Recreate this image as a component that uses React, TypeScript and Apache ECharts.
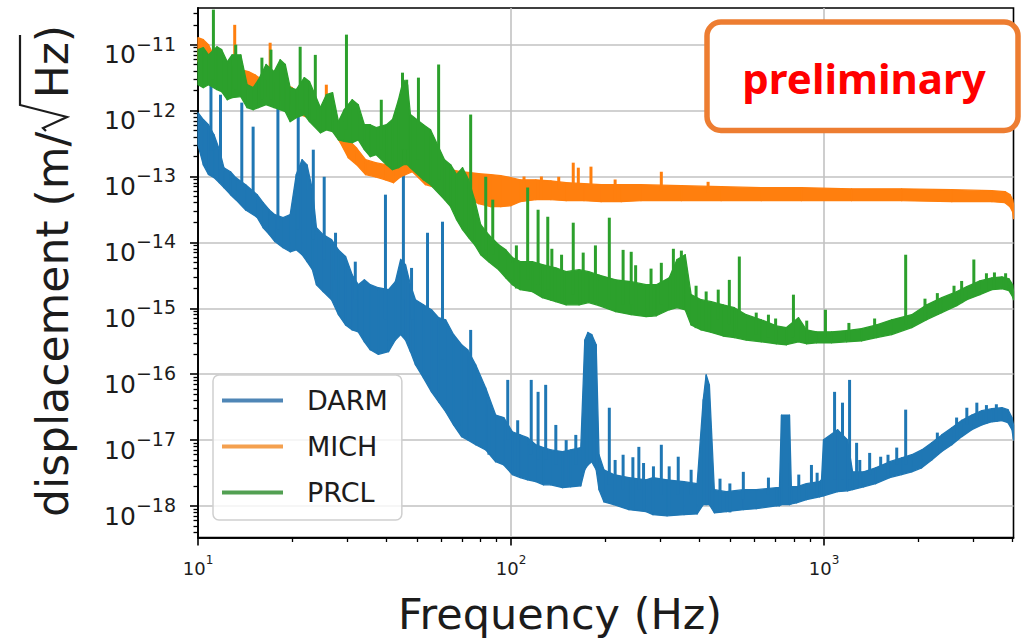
import React, { useEffect, useRef } from 'react';
import * as echarts from 'echarts';

// ---------------- chart data ----------------
const SERIES_NAMES = ['DARM', 'MICH', 'PRCL'];
const SERIES_COLORS = ['#1f77b4', '#ff7f0e', '#2ca02c'];
const LEGEND_COLORS = ['#4f86b6', '#f4a04f', '#52a052'];

const X_MIN_HZ = 10;
const X_MAX_HZ = 4027;
const Y_MIN = 3.33e-19;
const Y_MAX = 3.6e-11;

const X_TICK_EXPONENTS = [1, 2, 3];
const Y_TICK_EXPONENTS = [-18, -17, -16, -15, -14, -13, -12, -11];
const X_MINOR_HZ = [20, 30, 40, 50, 60, 70, 80, 90, 200, 300, 400, 500, 600, 700, 800, 900, 2000, 3000, 4000];
const MINOR_MANTISSAS = [2, 3, 4, 5, 6, 7, 8, 9];

// [frequency (Hz), lower edge, upper edge] of each noisy spectrum, in m/sqrt(Hz)
const DARM_BAND = [
  [10.0, 3.0e-13, 9.3e-13], [10.4, 1.5e-13, 7.3e-13], [10.8, 1.07e-13, 6.1e-13], [11.25, 9.6e-14, 4.3e-13],
  [11.7, 8.0e-14, 2.55e-13], [12.1, 6.8e-14, 1.36e-13], [12.7, 5.3e-14, 1.18e-13], [13.2, 4.45e-14, 9.6e-14],
  [14.2, 3.1e-14, 7.5e-14], [15.45, 2.4e-14, 5.3e-14], [16.15, 1.67e-14, 4.0e-14], [16.9, 1.31e-14, 3.1e-14],
  [17.6, 1.03e-14, 2.63e-14], [18.7, 8.3e-15, 2.37e-14], [19.7, 7.2e-15, 2.63e-14], [20.6, 7.7e-15, 1.07e-13],
  [21.5, 6.5e-15, 1.8e-13], [22.3, 5.1e-15, 1.5e-13], [23.2, 3.85e-15, 6.3e-14], [23.9, 2.28e-15, 1.67e-14],
  [25.1, 1.79e-15, 1.31e-14], [26.7, 1.35e-15, 1.1e-14], [28.1, 8.0e-16, 7.7e-15], [29.6, 5.6e-16, 6.1e-15],
  [31.1, 4.7e-16, 3.2e-15], [32.5, 4.4e-16, 2.28e-15], [34.0, 3.1e-16, 2.7e-15], [35.5, 2.35e-16, 2.28e-15],
  [37.7, 2.0e-16, 2.05e-15], [40.6, 2.2e-16, 1.92e-15], [42.7, 3.3e-16, 2.53e-15], [44.4, 4.0e-16, 5.5e-15],
  [46.0, 3.3e-16, 4.6e-15], [47.7, 2.2e-16, 2.28e-15], [49.5, 1.39e-16, 1.35e-15], [52.5, 8.8e-17, 1.13e-15],
  [55.7, 5.4e-17, 9.5e-16], [58.7, 3.8e-17, 7.2e-16], [61.8, 2.7e-17, 6.7e-16], [65.5, 1.7e-17, 4.0e-16],
  [69.5, 1.13e-17, 2.8e-16], [72.7, 1.01e-17, 2.35e-16], [77.1, 8.5e-18, 1.39e-16], [83.0, 7.1e-18, 6.2e-17],
  [89.3, 4.7e-18, 2.4e-17], [94.8, 4.2e-18, 2.2e-17], [101, 3.0e-18, 1.34e-17], [107, 2.7e-18, 1.2e-17],
  [113, 2.5e-18, 1.09e-17], [120, 2.34e-18, 8.5e-18], [127, 2.1e-18, 7.7e-18], [134, 2.1e-18, 7.1e-18],
  [146, 1.9e-18, 6.7e-18], [155, 1.96e-18, 7.1e-18], [167, 2.03e-18, 7.7e-18], [172, 3.55e-18, 3.3e-16],
  [176, 4.2e-18, 4.3e-16], [181, 4.7e-18, 4.0e-16], [187, 3.55e-18, 2.8e-16], [191, 1.77e-18, 6.0e-18],
  [198, 1.16e-18, 3.55e-18], [213, 1.05e-18, 3.0e-18], [238, 8.8e-19, 2.7e-18], [270, 8.2e-19, 2.5e-18],
  [284, 7.4e-19, 2.7e-18], [315, 7.1e-19, 2.5e-18], [357, 7.4e-19, 2.34e-18], [393, 7.6e-19, 2.18e-18],
  [411, 1.05e-18, 4.1e-17], [420, 1.05e-18, 9.8e-17], [430, 1.05e-18, 6.9e-17], [446, 7.9e-19, 1.77e-18],
  [487, 8.2e-19, 1.65e-18], [552, 8.8e-19, 1.77e-18], [607, 9.1e-19, 1.77e-18], [704, 1.01e-18, 1.9e-18],
  [720, 1.01e-18, 1.9e-18], [731, 1.05e-18, 2.4e-17], [775, 1.05e-18, 2.4e-17], [786, 1.08e-18, 1.96e-18],
  [816, 1.12e-18, 1.96e-18], [878, 1.25e-18, 2.18e-18], [967, 1.38e-18, 2.34e-18], [981, 1.4e-18, 2.5e-18],
  [996, 1.43e-18, 1.01e-17], [1104, 1.65e-18, 1.44e-17], [1188, 1.7e-18, 1.01e-17], [1233, 1.77e-18, 3.3e-18],
  [1337, 1.96e-18, 3.3e-18], [1460, 2.18e-18, 3.8e-18], [1620, 2.7e-18, 4.7e-18], [1769, 3.0e-18, 5.4e-18],
  [1905, 3.3e-18, 6.0e-18], [2050, 3.8e-18, 7.1e-18], [2207, 5.0e-18, 9.1e-18], [2376, 6.7e-18, 1.2e-17],
  [2558, 8.5e-18, 1.54e-17], [2754, 1.13e-17, 2.0e-17], [2964, 1.44e-17, 2.4e-17], [3191, 1.7e-17, 2.8e-17],
  [3436, 1.9e-17, 3.0e-17], [3699, 1.97e-17, 3.1e-17], [3866, 1.84e-17, 2.9e-17], [3982, 1.44e-17, 2.2e-17],
  [4027, 1.01e-17, 1.7e-17],
];

const MICH_BAND = [
  [10.0, 5.5e-12, 1.28e-11], [10.4, 5.0e-12, 1.19e-11], [10.8, 4.2e-12, 1.0e-11], [11.2, 2.94e-12, 7.0e-12],
  [11.8, 2.47e-12, 5.9e-12], [12.5, 2.08e-12, 5.0e-12], [13.6, 2.23e-12, 4.2e-12], [14.5, 2.08e-12, 3.9e-12],
  [15.2, 1.94e-12, 3.5e-12], [16.0, 1.74e-12, 2.94e-12], [17.8, 1.46e-12, 2.65e-12], [19.0, 1.46e-12, 2.47e-12],
  [20.0, 1.23e-12, 2.23e-12], [21.2, 8.7e-13, 1.57e-12], [22.5, 7.8e-13, 1.23e-12], [23.7, 6.8e-13, 1.11e-12],
  [25.3, 5.5e-13, 1.03e-12], [27.1, 4.8e-13, 8.7e-13], [28.5, 3.26e-13, 6.1e-13], [30.2, 1.93e-13, 3.6e-13],
  [32.1, 1.51e-13, 2.7e-13], [34.3, 1.07e-13, 1.8e-13], [36.9, 9.9e-14, 1.62e-13], [39.7, 8.9e-14, 1.51e-13],
  [42.1, 8.05e-14, 1.36e-13], [44.4, 9.9e-14, 2.55e-13], [46.0, 1.07e-13, 4.3e-13], [48.4, 1.18e-13, 3.6e-13],
  [50.6, 9.6e-14, 2.55e-13], [53.3, 7.5e-14, 1.51e-13], [56.1, 7.0e-14, 1.36e-13], [59.6, 8.3e-14, 1.51e-13],
  [64.1, 8.3e-14, 1.27e-13], [69.0, 7.5e-14, 1.18e-13], [74.3, 4.45e-14, 1.14e-13], [78.8, 3.87e-14, 1.1e-13],
  [86.1, 3.48e-14, 1.07e-13], [92.7, 3.48e-14, 1.03e-13], [99.8, 3.6e-14, 9.6e-14], [107, 4.15e-14, 8.9e-14],
  [120, 4.45e-14, 8.9e-14], [134, 4.45e-14, 8.6e-14], [150, 4.3e-14, 8.05e-14], [171, 4.3e-14, 7.8e-14],
  [194, 4.15e-14, 7.5e-14], [225, 4.15e-14, 7.5e-14], [260, 4.3e-14, 7.5e-14], [350, 4.3e-14, 7.25e-14],
  [469, 4.3e-14, 7.0e-14], [630, 4.3e-14, 6.76e-14], [846, 4.3e-14, 6.76e-14], [1224, 4.3e-14, 6.5e-14],
  [1769, 4.3e-14, 6.5e-14], [2558, 4.15e-14, 6.3e-14], [3436, 4.15e-14, 6.1e-14], [3782, 4.0e-14, 5.9e-14],
  [3924, 3.48e-14, 5.3e-14], [4000, 2.92e-14, 4.45e-14], [4027, 2.29e-14, 3.73e-14],
];

const PRCL_BAND = [
  [10.0, 2.47e-12, 8.4e-12], [10.4, 2.23e-12, 9.0e-12], [10.8, 2.47e-12, 7.0e-12], [11.5, 2.08e-12, 9.3e-12],
  [11.9, 1.94e-12, 8.4e-12], [12.4, 1.46e-12, 5.5e-12], [12.85, 1.57e-12, 7.0e-12], [13.7, 1.63e-12, 7.0e-12],
  [14.35, 1.11e-12, 2.47e-12], [15.0, 1.03e-12, 2.23e-12], [15.6, 1.11e-12, 2.94e-12], [16.5, 1.23e-12, 5.0e-12],
  [17.5, 1.11e-12, 3.9e-12], [18.3, 1.03e-12, 5.9e-12], [19.0, 9.6e-13, 5.0e-12], [19.7, 6.8e-13, 2.23e-12],
  [20.6, 7.8e-13, 2.08e-12], [21.85, 8.7e-13, 3.16e-12], [22.7, 6.8e-13, 2.75e-12], [24.6, 4.6e-13, 1.11e-12],
  [25.7, 5.1e-13, 1.74e-12], [26.9, 4.8e-13, 1.87e-12], [28.1, 3.6e-13, 6.8e-13], [29.3, 3.4e-13, 1.03e-12],
  [31.1, 3.26e-13, 1.46e-12], [32.5, 3.6e-13, 1.23e-12], [34.0, 2.55e-13, 6.1e-13], [35.5, 2.0e-13, 6.1e-13],
  [37.1, 2.14e-13, 5.5e-13], [40.0, 1.51e-13, 6.1e-13], [41.8, 1.27e-13, 7.3e-13], [43.7, 1.36e-13, 1.46e-12],
  [45.3, 1.51e-13, 2.94e-12], [46.7, 1.51e-13, 2.47e-12], [47.7, 1.36e-13, 8.7e-13], [52.5, 8.9e-14, 6.1e-13],
  [55.3, 7.5e-14, 5.1e-13], [61.3, 4.45e-14, 1.8e-13], [64.1, 3.48e-14, 1.51e-13], [67.0, 2.21e-14, 1.07e-13],
  [70.0, 1.56e-14, 1.36e-13], [73.2, 1.18e-14, 8.9e-14], [76.5, 9.2e-15, 4.45e-14], [80.0, 6.5e-15, 1.86e-14],
  [84.8, 5.1e-15, 1.31e-14], [91.3, 3.85e-15, 9.2e-15], [96.2, 2.9e-15, 7.7e-15], [101, 2.28e-15, 5.9e-15],
  [107, 1.92e-15, 5.1e-15], [117, 1.79e-15, 5.1e-15], [126, 1.45e-15, 4.6e-15], [139, 1.26e-15, 4.1e-15],
  [150, 1.13e-15, 3.6e-15], [165, 1.13e-15, 3.85e-15], [177, 1.22e-15, 3.6e-15], [191, 1.1e-15, 3.2e-15],
  [216, 8.9e-16, 2.7e-15], [242, 8.0e-16, 2.53e-15], [270, 7.5e-16, 2.28e-15], [291, 7.7e-16, 2.28e-15],
  [320, 9.5e-16, 2.9e-15], [339, 1.02e-15, 5.5e-15], [360, 9.5e-16, 6.5e-15], [376, 5.6e-16, 1.61e-15],
  [405, 4.7e-16, 1.35e-15], [436, 4.3e-16, 1.26e-15], [476, 3.8e-16, 1.13e-15], [517, 3.6e-16, 1.02e-15],
  [564, 3.3e-16, 8.0e-16], [630, 3.1e-16, 6.7e-16], [704, 2.9e-16, 5.4e-16], [758, 2.8e-16, 5.1e-16],
  [828, 3.1e-16, 7.2e-16], [878, 2.9e-16, 4.7e-16], [946, 3.0e-16, 4.4e-16], [1056, 3.0e-16, 4.4e-16],
  [1180, 3.1e-16, 4.6e-16], [1317, 3.2e-16, 4.9e-16], [1472, 3.6e-16, 5.6e-16], [1644, 4.0e-16, 6.7e-16],
  [1905, 5.1e-16, 8.0e-16], [2127, 6.7e-16, 1.13e-15], [2376, 8.6e-16, 1.45e-15], [2654, 1.1e-15, 1.79e-15],
  [2857, 1.35e-15, 2.13e-15], [3145, 1.61e-15, 2.6e-15], [3436, 1.92e-15, 2.9e-15], [3699, 1.98e-15, 3.0e-15],
  [3895, 1.85e-15, 2.8e-15], [4000, 1.5e-15, 2.28e-15], [4027, 1.35e-15, 1.79e-15],
];

// narrow spectral lines: [frequency (Hz), base, peak], in m/sqrt(Hz)
const DARM_PEAKS = [
  [11.0, 2.5e-13, 2.65e-12], [11.8, 1.27e-13, 1.74e-12], [13.8, 6.3e-14, 1.32e-12], [15.0, 4.45e-14, 5.7e-13],
  [18.0, 1.56e-14, 1.11e-12], [20.9, 1.56e-14, 9.3e-13], [23.35, 1.1e-14, 2.55e-13], [25.3, 5.5e-15, 9.9e-14],
  [27.5, 2.7e-15, 1.4e-14], [31.8, 1.35e-15, 5.1e-15], [39.7, 6.7e-16, 5.3e-14], [45.3, 1.35e-15, 1.18e-13],
  [48.1, 6.7e-16, 4.1e-15], [54.1, 3.3e-16, 1.4e-14], [60.4, 1.66e-16, 2.06e-14], [74.3, 4.1e-17, 4.7e-16],
  [85.0, 6.0e-18, 3.5e-17], [97.6, 1.01e-17, 8.2e-17], [105, 3.0e-18, 2.0e-17], [116, 6.0e-18, 8.2e-17],
  [122, 5.0e-18, 5.4e-17], [129, 5.0e-18, 6.9e-17], [139, 4.2e-18, 1.7e-17], [150, 2.0e-18, 1.0e-17],
  [161, 4.2e-18, 1.2e-17], [206, 2.1e-18, 3.1e-17], [215, 1.1e-18, 5.0e-18], [228, 1.77e-18, 6.0e-18],
  [245, 9.0e-19, 5.5e-18], [256, 1.77e-18, 7.9e-18], [265, 9.0e-19, 4.5e-18], [285, 8.0e-19, 4.0e-18],
  [302, 1.48e-18, 8.5e-18], [320, 8.0e-19, 4.0e-18], [342, 1.48e-18, 5.6e-18], [376, 1.48e-18, 3.55e-18],
  [465, 8.0e-19, 2.6e-18], [500, 8.0e-19, 2.2e-18], [552, 1.25e-18, 3.3e-18], [664, 1.48e-18, 2.7e-18],
  [830, 1.2e-18, 3.0e-18], [911, 1.77e-18, 4.2e-18], [950, 1.4e-18, 3.2e-18], [1080, 2.5e-18, 5.4e-17],
  [1145, 2.5e-18, 3.7e-17], [1206, 2.5e-18, 8.2e-17], [1270, 2.5e-18, 9.1e-18], [1300, 2.0e-18, 5.0e-18],
  [1398, 3.0e-18, 6.4e-18], [1516, 3.55e-18, 5.6e-18], [1600, 2.7e-18, 6.0e-18], [1706, 4.2e-18, 7.7e-18],
  [1822, 4.2e-18, 2.9e-17], [2300, 6.0e-18, 1.3e-17], [2650, 1.0e-17, 2.2e-17], [2857, 1.7e-17, 3.1e-17],
  [3075, 2.0e-17, 3.7e-17], [3300, 1.8e-17, 3.4e-17], [3550, 1.9e-17, 3.5e-17],
];

const MICH_PEAKS = [
  [13.1, 2.94e-12, 2.0e-11], [17.0, 2.08e-12, 1.07e-11], [25.7, 7.3e-13, 2.47e-12], [110, 4.5e-14, 1.0e-13],
  [125, 4.5e-14, 1.0e-13], [142, 6.3e-14, 9.9e-14], [158, 6.3e-14, 1.62e-13], [164, 6.3e-14, 1.36e-13],
  [180, 6.3e-14, 1.41e-13], [215, 4.2e-14, 9.0e-14], [302, 5.9e-14, 1.18e-13], [426, 5.7e-14, 8.3e-14],
];

const PRCL_PEAKS = [
  [11.2, 2.94e-12, 3.4e-11], [13.2, 2.08e-12, 1.0e-11], [16.0, 1.46e-12, 6.35e-12], [17.1, 1.46e-12, 8.4e-12],
  [21.2, 1.03e-12, 9.3e-12], [23.7, 7.3e-13, 7.0e-12], [29.8, 5.1e-13, 1.42e-11], [38.5, 2.55e-13, 1.46e-12],
  [45.0, 2.55e-13, 3.76e-12], [46.4, 2.55e-13, 2.94e-12], [50.6, 1.8e-13, 3.16e-12], [58.7, 8.9e-14, 5.0e-12],
  [74.3, 2.21e-14, 8.7e-13], [83.0, 7.7e-15, 9.9e-14], [87.4, 6.5e-15, 4.45e-14], [104, 2.0e-15, 9.0e-15],
  [113, 2.7e-15, 6.8e-14], [122, 2.28e-15, 3.13e-14], [131, 1.92e-15, 2.45e-14], [135, 1.3e-15, 8.0e-15],
  [145, 1.2e-15, 6.5e-15], [158, 1.61e-15, 1.99e-14], [170, 1.2e-15, 7.0e-15], [186, 1.2e-15, 9.0e-15],
  [206, 1.35e-15, 2.37e-14], [228, 1.13e-15, 7.7e-15], [242, 1.13e-15, 7.2e-15], [250, 8.0e-16, 4.5e-15],
  [280, 7.5e-16, 4.0e-15], [302, 1.13e-15, 4.9e-15], [330, 1.0e-15, 8.0e-15], [350, 1.0e-15, 7.5e-15],
  [390, 5.0e-16, 2.2e-15], [420, 4.5e-16, 1.8e-15], [459, 6.7e-16, 1.92e-15], [498, 5.6e-16, 2.7e-15],
  [536, 4.7e-16, 6.1e-15], [607, 4.0e-16, 8.6e-16], [664, 3.6e-16, 8.0e-16], [700, 3.0e-16, 7.0e-16],
  [798, 3.6e-16, 1.61e-15], [880, 3.0e-16, 6.5e-16], [1010, 3.6e-16, 9.5e-16], [1200, 3.2e-16, 6.0e-16],
  [1450, 3.6e-16, 7.0e-16], [1822, 5.6e-16, 6.5e-15], [2100, 6.7e-16, 1.4e-15], [2300, 8.0e-16, 1.7e-15],
  [2600, 1.1e-15, 2.2e-15], [2750, 1.2e-15, 2.6e-15], [3008, 1.79e-15, 5.5e-15], [3300, 1.8e-15, 3.4e-15],
  [3500, 1.9e-15, 3.5e-15], [3800, 1.9e-15, 3.4e-15],
];

const X_TITLE = 'Frequency (Hz)';
const Y_TITLE_MAIN = 'displacement (m/';
const Y_TITLE_ROOT = 'Hz)';
const STAMP = 'preliminary';

// ---------------- option ----------------
function buildOption() {
  const lg = Math.log10;
  const xMin = lg(X_MIN_HZ);
  const xMax = lg(X_MAX_HZ);
  const yMin = lg(Y_MIN);
  const yMax = lg(Y_MAX);
  const xMinor = X_MINOR_HZ.map(lg);
  const yMinor: number[] = [];
  for (let e = -19; e <= -11; e++) {
    for (const m of MINOR_MANTISSAS) {
      const v = e + lg(m);
      if (v > yMin && v < yMax) yMinor.push(v);
    }
  }
  const font = 'DejaVu Sans';
  const ink = '#1c1c1c';
  const gridLine = { color: '#c2c2c2', width: 1.6 };
  const spine = { color: '#000000', width: 1.6 };

  const bands = [DARM_BAND, MICH_BAND, PRCL_BAND];
  const peaks = [DARM_PEAKS, MICH_PEAKS, PRCL_PEAKS];
  const series: any[] = [];
  SERIES_NAMES.forEach((name, i) => {
    const color = SERIES_COLORS[i];
    const pts = bands[i].map((r) => [lg(r[0]), lg(r[1]), lg(r[2])]);
    const z = 2 + i;
    series.push({
      type: 'custom', name, coordinateSystem: 'cartesian2d',
      data: pts, encode: { x: 0, y: [1, 2] },
      itemStyle: { color },
      renderItem: (params: any, api: any) => {
        const k = params.dataIndex;
        if (k >= pts.length - 1) return null;
        const n = pts[k + 1];
        const f0 = api.value(0);
        const p1 = api.coord([f0, api.value(2)]);
        const p2 = api.coord([n[0], n[2]]);
        const p3 = api.coord([n[0], n[1]]);
        const p4 = api.coord([f0, api.value(1)]);
        return {
          type: 'polygon',
          shape: { points: [p1, p2, p3, p4] },
          style: { fill: color, stroke: color, lineWidth: 1.3, lineJoin: 'round' },
        };
      },
      silent: true, z,
    });
    series.push({
      type: 'custom', name: name + ' lines', coordinateSystem: 'cartesian2d',
      data: peaks[i].map((r) => [lg(r[0]), lg(r[1]), lg(r[2])]),
      encode: { x: 0, y: [1, 2] },
      itemStyle: { color },
      renderItem: (_p: any, api: any) => {
        const a = api.coord([api.value(0), api.value(1)]);
        const b = api.coord([api.value(0), api.value(2)]);
        return { type: 'line', shape: { x1: a[0], y1: a[1], x2: b[0], y2: b[1] }, style: { stroke: color, lineWidth: 3 } };
      },
      silent: true, z,
    });
  });

  const xRich = {
    b: { fontFamily: font, fontSize: 18, color: ink, lineHeight: 18, padding: [7, 0, 0, 0], verticalAlign: 'top' },
    s: { fontFamily: font, fontSize: 12, color: ink, lineHeight: 12, padding: [1, 0, 0, 0], verticalAlign: 'top' },
  };
  const yRich = {
    b: { fontFamily: font, fontSize: 25, color: ink, lineHeight: 25, padding: [10, 0, 0, 0], verticalAlign: 'top' },
    s: { fontFamily: font, fontSize: 19, color: ink, lineHeight: 19, padding: [2, 0, 0, 0], verticalAlign: 'top' },
  };

  return {
    animation: false,
    backgroundColor: '#ffffff',
    textStyle: { fontFamily: font },
    grid: {
      left: 198, top: 8, right: 11.5, bottom: 104.5, show: true,
      borderColor: '#000000', borderWidth: 1.6, backgroundColor: 'transparent',
      containLabel: false, outerBoundsMode: 'none',
    },
    xAxis: [
      {
        type: 'value', min: xMin, max: xMax, position: 'bottom',
        axisLine: { show: true, lineStyle: spine },
        axisTick: { show: true, length: 8, lineStyle: spine, customValues: X_TICK_EXPONENTS },
        axisLabel: {
          show: true, customValues: X_TICK_EXPONENTS, margin: 15,
          formatter: (v: number) => `{b|10}{s|${Math.round(v)}}`, rich: xRich,
        },
        splitLine: { show: true, lineStyle: gridLine },
      },
      {
        type: 'value', min: xMin, max: xMax, position: 'bottom',
        axisLine: { show: true, lineStyle: spine },
        axisTick: { show: true, length: 4.5, lineStyle: { color: '#000', width: 1.3 }, customValues: xMinor },
        axisLabel: { show: false },
        splitLine: { show: false },
      },
    ],
    yAxis: [
      {
        type: 'value', min: yMin, max: yMax, position: 'left',
        axisLine: { show: true, lineStyle: spine },
        axisTick: { show: true, length: 8, lineStyle: spine, customValues: Y_TICK_EXPONENTS },
        axisLabel: {
          show: true, customValues: Y_TICK_EXPONENTS, margin: 22,
          formatter: (v: number) => `{b|10}{s|\u2212${Math.abs(Math.round(v))}}`, rich: yRich,
        },
        splitLine: { show: true, lineStyle: gridLine },
      },
      {
        type: 'value', min: yMin, max: yMax, position: 'left',
        axisLine: { show: true, lineStyle: spine },
        axisTick: { show: true, length: 4.5, lineStyle: { color: '#000', width: 1.3 }, customValues: yMinor },
        axisLabel: { show: false },
        splitLine: { show: false },
      },
    ],
    legend: {
      orient: 'vertical', left: 213, top: 375, z: 10,
      data: SERIES_NAMES.map((name, i) => ({ name, itemStyle: { color: LEGEND_COLORS[i] } })),
      icon: 'rect', itemWidth: 61, itemHeight: 4, itemGap: 19,
      padding: [12, 14, 14, 9],
      backgroundColor: 'rgba(255,255,255,0.8)', borderColor: '#cfcfcf', borderWidth: 1.5, borderRadius: 6,
      textStyle: { fontFamily: font, fontSize: 27, color: ink, padding: [0, 0, 0, 19] },
      selectedMode: false,
    },
    graphic: [
      {
        type: 'text', x: 560, y: 614, z: 20,
        style: { text: X_TITLE, fontFamily: font, fontSize: 43, fill: ink, align: 'center', verticalAlign: 'middle' },
      },
      {
        type: 'text', x: 52, y: 517, rotation: Math.PI / 2, z: 20,
        style: { text: Y_TITLE_MAIN, fontFamily: font, fontSize: 44, fill: ink, align: 'left', verticalAlign: 'middle' },
      },
      {
        type: 'text', x: 52, y: 25, rotation: Math.PI / 2, z: 20,
        style: { text: Y_TITLE_ROOT, fontFamily: font, fontSize: 44, fill: ink, align: 'right', verticalAlign: 'middle' },
      },
      {
        type: 'polyline', z: 20,
        shape: { points: [[46, 131], [43, 128], [67, 117], [20, 105], [20, 35]] },
        style: { stroke: ink, lineWidth: 2.2, fill: null },
      },
      {
        type: 'rect', z: 100,
        shape: { x: 707, y: 22, width: 311, height: 108.5, r: 14 },
        style: { fill: '#ffffff', stroke: '#ed7d31', lineWidth: 5.5 },
      },
      {
        type: 'text', x: 864, y: 77, z: 101,
        style: { text: STAMP, fontFamily: 'Noto Sans', fontWeight: 'bold', fontSize: 42, fill: '#ff0000', align: 'center', verticalAlign: 'middle' },
      },
    ],
    series,
  };
}

export default function App() {
  const ref = useRef<HTMLDivElement>(null);
  useEffect(() => {
    if (!ref.current) return;
    const chart = echarts.init(ref.current, null, { renderer: 'svg' });
    chart.setOption(buildOption() as any);
    return () => chart.dispose();
  }, []);
  return (
    <div
      ref={ref}
      style={{ position: 'absolute', left: 0, top: 0, width: 1025, height: 642, background: '#ffffff' }}
    />
  );
}
